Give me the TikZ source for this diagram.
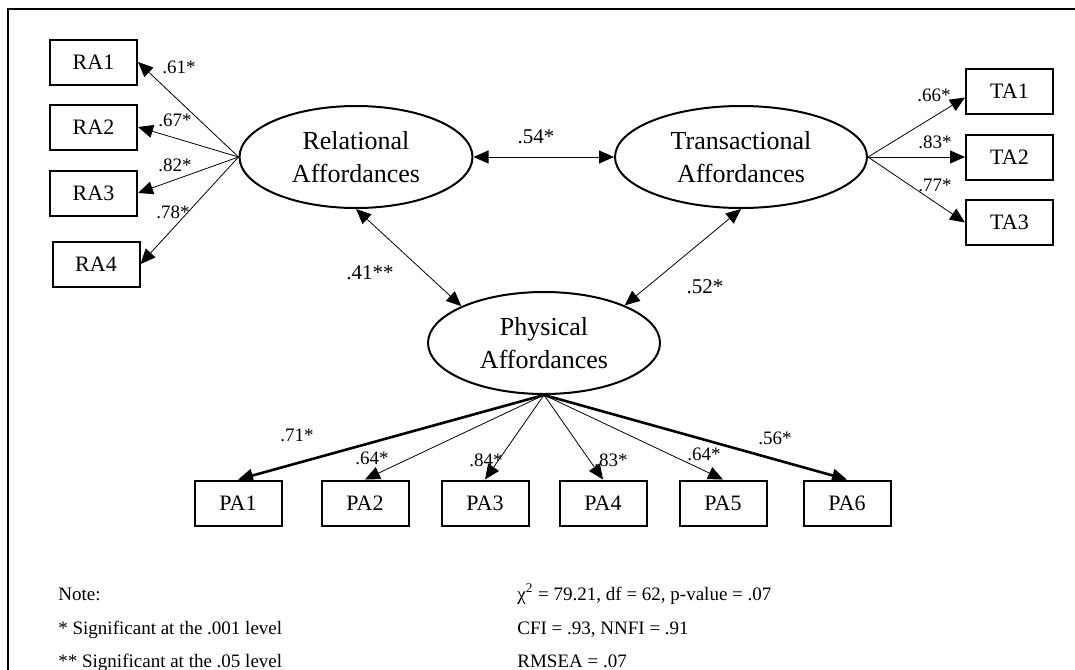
\documentclass[tikz,border=0pt]{standalone}
\usepackage{fontspec}
\setmainfont{Liberation Serif}
\usetikzlibrary{arrows.meta,shapes.geometric}

\tikzset{
  item/.style={draw, line width=1pt, minimum width=43.5pt, minimum height=22.5pt,
    inner sep=0pt, font=\fontsize{11}{13}\selectfont},
  factor/.style={draw, ellipse, line width=1pt, minimum height=51pt, inner sep=0pt,
    align=center, font=\fontsize{13}{16.5}\selectfont},
  load/.style={-{Triangle[length=7.5pt,width=6.5pt]}, line width=0.4pt},
  heavy/.style={load, line width=1.3pt},
  corr/.style={{Triangle[length=7.5pt,width=6.5pt]}-{Triangle[length=7.5pt,width=6.5pt]}, line width=0.4pt},
  est/.style={font=\fontsize{9.5}{11}\selectfont, inner sep=0pt},
  corrlab/.style={font=\fontsize{10.5}{12}\selectfont, inner sep=0pt},
  note/.style={anchor=base west, font=\fontsize{9.5}{11}\selectfont, inner sep=0pt}
}

\begin{document}
\begin{tikzpicture}[x=0.5pt, y=-0.5pt]
  \useasboundingbox (0,0) rectangle (1075,669);
  % outer frame (only left and top edges fall inside the page)
  \draw[line width=1.2pt] (8,690) -- (8,9) -- (1090,9);

  % latent factors
  \node[factor, minimum width=116.5pt] (rel) at (356,157) {Relational\\Affordances};
  \node[factor, minimum width=126pt] (trans) at (741,157) {Transactional\\Affordances};
  \node[factor, minimum width=116pt] (phys) at (544,343) {Physical\\Affordances};

  % indicators
  \node[item] (ra1) at (93.5,62) {RA1};
  \node[item] (ra2) at (93.5,127) {RA2};
  \node[item] (ra3) at (93.5,193) {RA3};
  \node[item] (ra4) at (96,264) {RA4};
  \foreach \i/\y in {1/91.5,2/157,3/222.5}
    \node[item] (ta\i) at (1009.5,\y) {TA\i};
  \foreach \i/\x in {1/238,2/365,3/485,4/603,5/723,6/847}
    \node[item] (pa\i) at (\x,503) {PA\i};

  % loadings
  \foreach \i in {1,...,4}
    \draw[load] (rel.west) -- (ra\i.east);
  \draw[load] (trans.east) -- ([yshift=-3pt]ta1.west);
  \draw[load] (trans.east) -- (ta2.west);
  \draw[load] (trans.east) -- (ta3.west);
  \draw[heavy] (phys.south) -- (pa1.north);
  \foreach \i in {2,...,5}
    \draw[load] (phys.south) -- (pa\i.north);
  \draw[heavy] (phys.south) -- (pa6.north);

  % correlations
  \draw[corr] (rel.east) -- (trans.west);
  \draw[corr] (rel.south) -- (phys.156);
  \draw[corr] (trans.south) -- (phys.25);

  % estimates
  \node[est] (l-ra1) at (179,67) {.61*};
  \node[est] (l-ra2) at (175,120) {.67*};
  \node[est] (l-ra3) at (175,165) {.82*};
  \node[est] (l-ra4) at (173,212) {.78*};
  \node[est] (l-ta1) at (934,95) {.66*};
  \node[est] (l-ta2) at (935,142) {.83*};
  \node[est] (l-ta3) at (935,185) {.77*};
  \node[est] (l-pa1) at (297,435) {.71*};
  \node[est] (l-pa2) at (372,458) {.64*};
  \node[est] (l-pa3) at (486,460) {.84*};
  \node[est] (l-pa4) at (611,460) {.83*};
  \node[est] (l-pa5) at (704,454) {.64*};
  \node[est] (l-pa6) at (775,438) {.56*};
  \node[corrlab] (l-rt) at (536,137) {.54*};
  \node[corrlab] (l-rp) at (370,273) {.41**};
  \node[corrlab] (l-tp) at (705,287) {.52*};

  % notes and fit
  \node[note] (n1) at (58,600) {Note:};
  \node[note] (n2) at (58,634) {* Significant at the .001 level};
  \node[note] (n3) at (58,667) {** Significant at the .05 level};
  \node[note] (f1) at (517,600) {χ\textsuperscript{2} = 79.21, df = 62, p-value = .07};
  \node[note] (f2) at (517,634) {CFI = .93, NNFI = .91};
  \node[note] (f3) at (517,667) {RMSEA = .07};
\end{tikzpicture}
\end{document}
